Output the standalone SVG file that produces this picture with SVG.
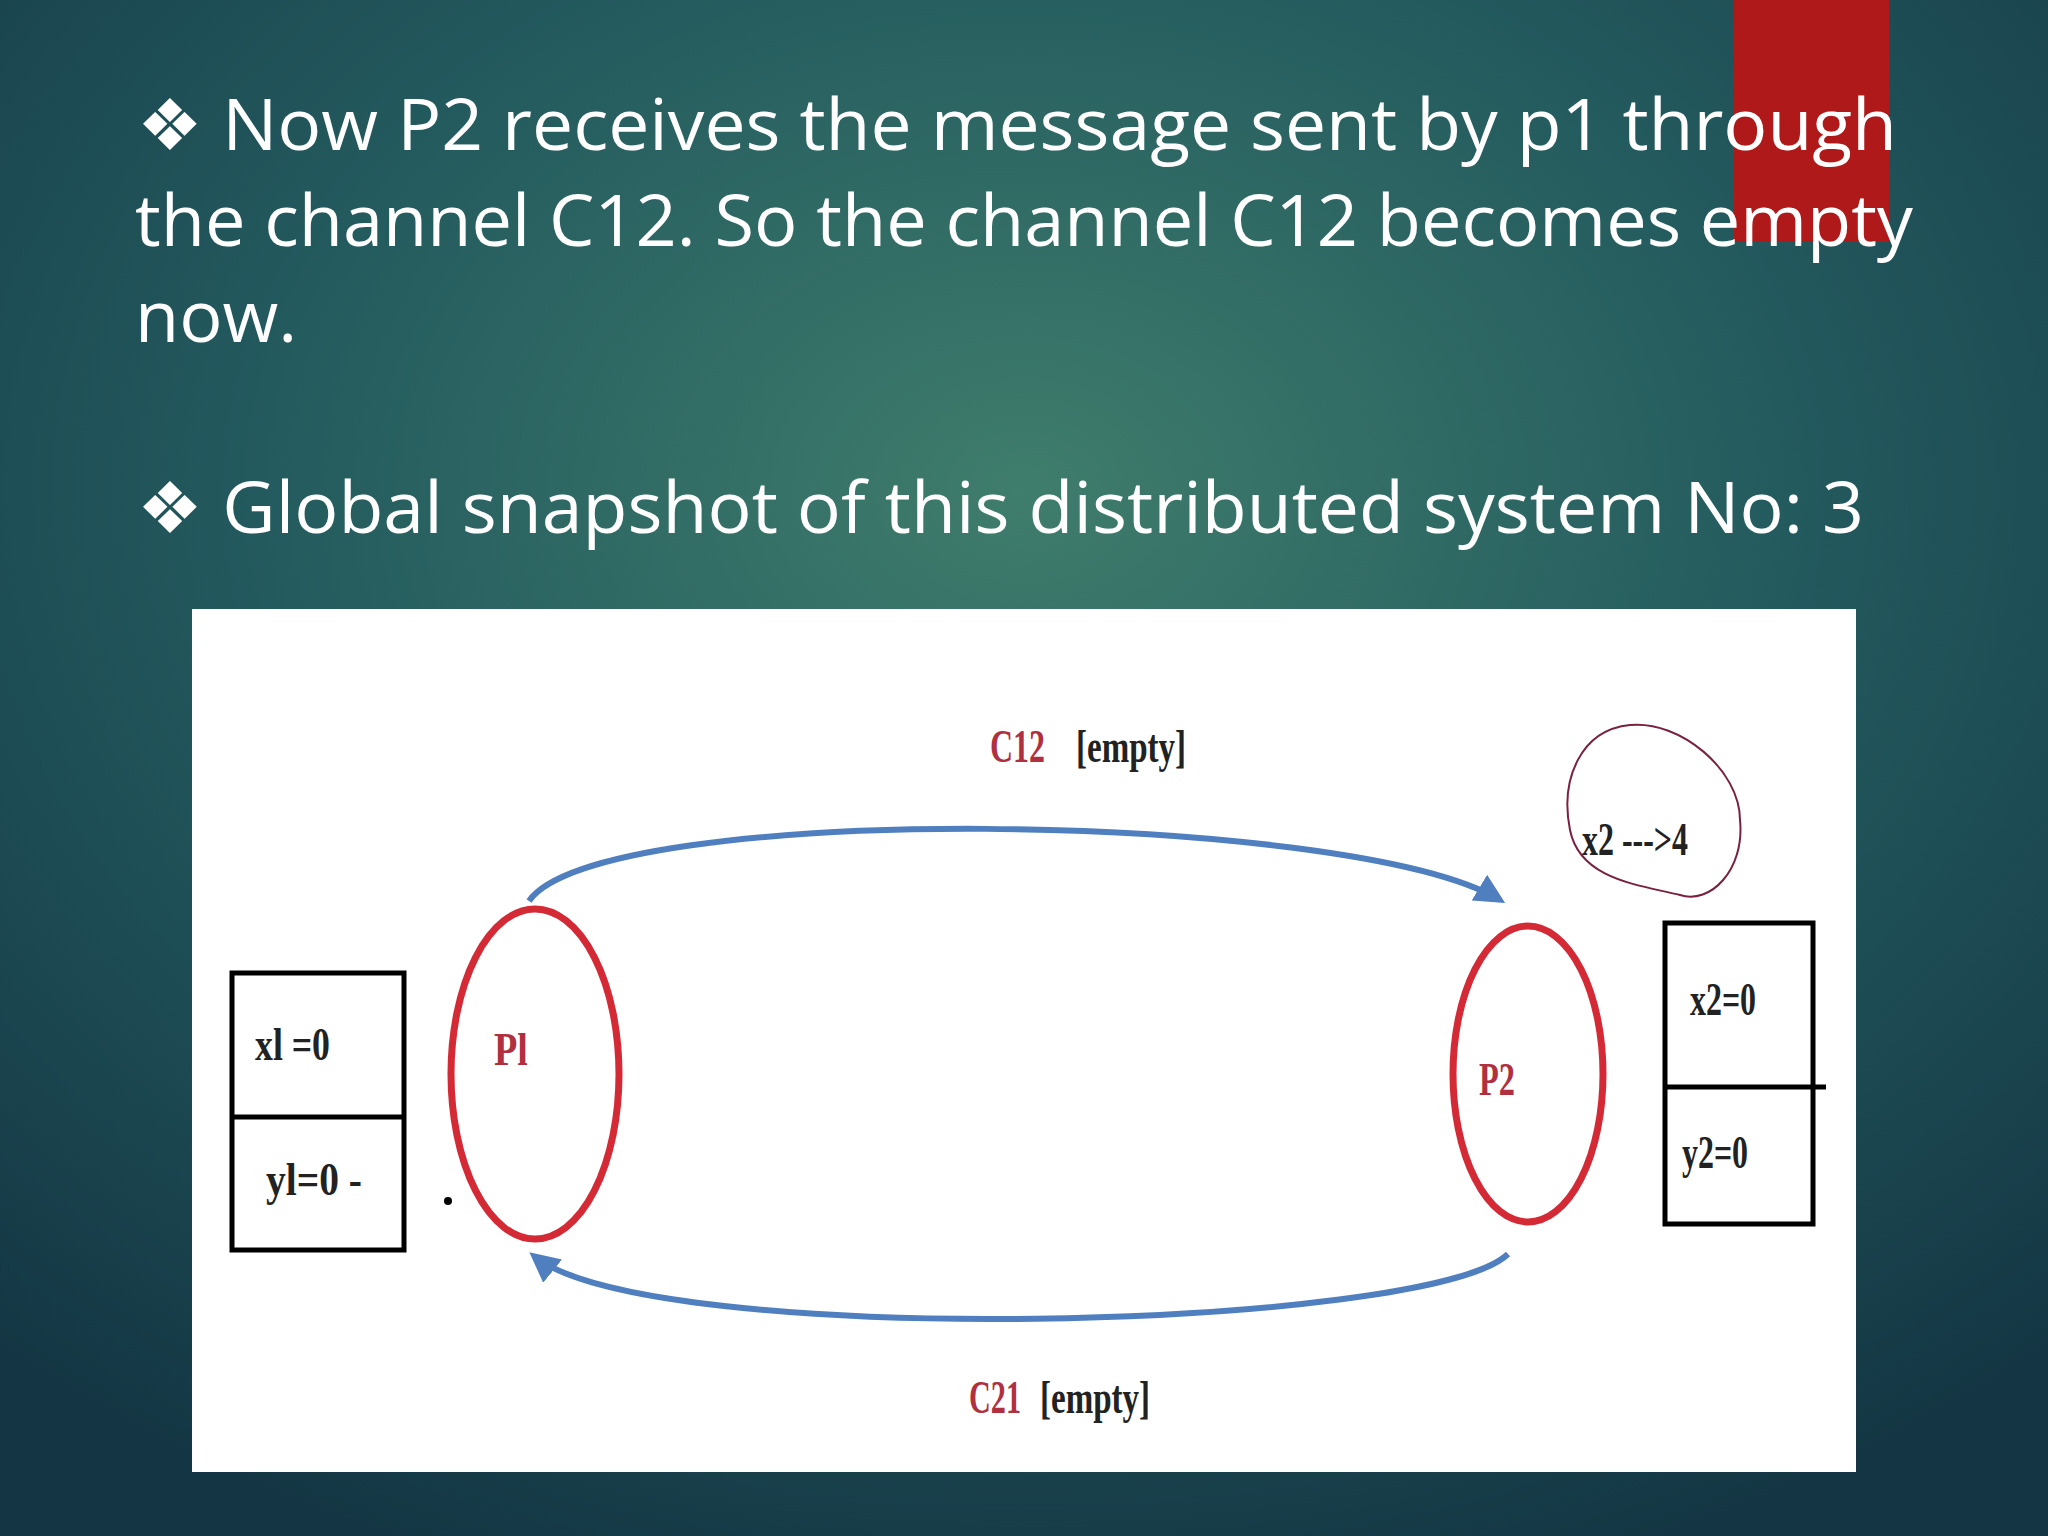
<svg xmlns="http://www.w3.org/2000/svg" width="2048" height="1536" viewBox="0 0 2048 1536">
<defs>
<radialGradient id="bg" cx="0.5" cy="0.32" r="0.75">
<stop offset="0" stop-color="#3f7d6c"/><stop offset="0.5" stop-color="#235a5e"/><stop offset="1" stop-color="#143644"/>
</radialGradient>
<marker id="ah" markerWidth="5" markerHeight="5" refX="4" refY="2.5" orient="auto" markerUnits="strokeWidth"><path d="M0,0 L5,2.5 L0,5 z" fill="#4f7fbf"/></marker>
<style>
.t{font-family:"Open Sans","Liberation Sans",sans-serif;font-size:72px;fill:#fff}
.d{font-family:"Liberation Serif",serif;font-size:46px;fill:#222;font-weight:bold}
.r{fill:#b03040}
.box{fill:none;stroke:#000;stroke-width:5}
.arr{fill:none;stroke:#4f7fbf;stroke-width:6}
</style>
</defs>
<rect width="2048" height="1536" fill="url(#bg)"/>
<rect x="1734" y="0" width="155" height="242" fill="#b01919"/>
<text class="t" x="137" y="150" textLength="1760" lengthAdjust="spacingAndGlyphs">❖ Now P2 receives the message sent by p1 through</text>
<text class="t" x="135" y="246" textLength="1778" lengthAdjust="spacingAndGlyphs">the channel C12. So the channel C12 becomes empty</text>
<text class="t" x="135" y="342">now.</text>
<text class="t" x="137" y="533" textLength="1727" lengthAdjust="spacingAndGlyphs">❖ Global snapshot of this distributed system No: 3</text>
<rect x="192" y="609" width="1664" height="863" fill="#fff"/>
<g id="connectors">
<path class="arr" d="M529,901 C600,800 1350,810 1500,900" marker-end="url(#ah)"/>
<path class="arr" d="M1508,1254 C1430,1330 650,1350 534,1256" marker-end="url(#ah)"/>
</g>
<g id="c12"><text class="d" x="990" y="762"><tspan class="r" textLength="55" lengthAdjust="spacingAndGlyphs">C12</tspan><tspan x="1076" textLength="110" lengthAdjust="spacingAndGlyphs">[empty]</tspan></text></g>
<g id="c21"><text class="d" x="969" y="1413"><tspan class="r" textLength="52" lengthAdjust="spacingAndGlyphs">C21</tspan><tspan x="1040" textLength="110" lengthAdjust="spacingAndGlyphs">[empty]</tspan></text></g>
<g id="box1"><rect class="box" x="232" y="973" width="172" height="277"/><line class="box" x1="232" y1="1117" x2="404" y2="1117"/>
<text class="d" x="255" y="1060" textLength="75" lengthAdjust="spacingAndGlyphs">xl =0</text><text class="d" x="266" y="1195" textLength="96" lengthAdjust="spacingAndGlyphs">yl=0 -</text><circle cx="448" cy="1201" r="4"/></g>
<g id="p1"><ellipse cx="535" cy="1074" rx="84" ry="165" fill="none" stroke="#d42a36" stroke-width="7"/><text class="d r" x="494" y="1065" textLength="34" lengthAdjust="spacingAndGlyphs">Pl</text></g>
<g id="p2"><ellipse cx="1528" cy="1074" rx="75" ry="148" fill="none" stroke="#d42a36" stroke-width="7"/><text class="d r" x="1479" y="1095" textLength="36" lengthAdjust="spacingAndGlyphs">P2</text></g>
<g id="box2"><rect class="box" x="1665" y="923" width="148" height="301"/><line class="box" x1="1665" y1="1087" x2="1826" y2="1087"/>
<text class="d" x="1690" y="1015" textLength="66" lengthAdjust="spacingAndGlyphs">x2=0</text><text class="d" x="1682" y="1168" textLength="66" lengthAdjust="spacingAndGlyphs">y2=0</text></g>
<g id="cloud"><path d="M1570,830 C1560,780 1580,730 1630,725 C1680,720 1740,770 1740,820 C1745,870 1710,905 1680,895 C1640,885 1580,880 1570,830 Z" fill="none" stroke="#7a2040" stroke-width="2"/>
<text class="d" x="1582" y="855" font-size="38" textLength="106" lengthAdjust="spacingAndGlyphs">x2 ---&gt;4</text></g>
</svg>
